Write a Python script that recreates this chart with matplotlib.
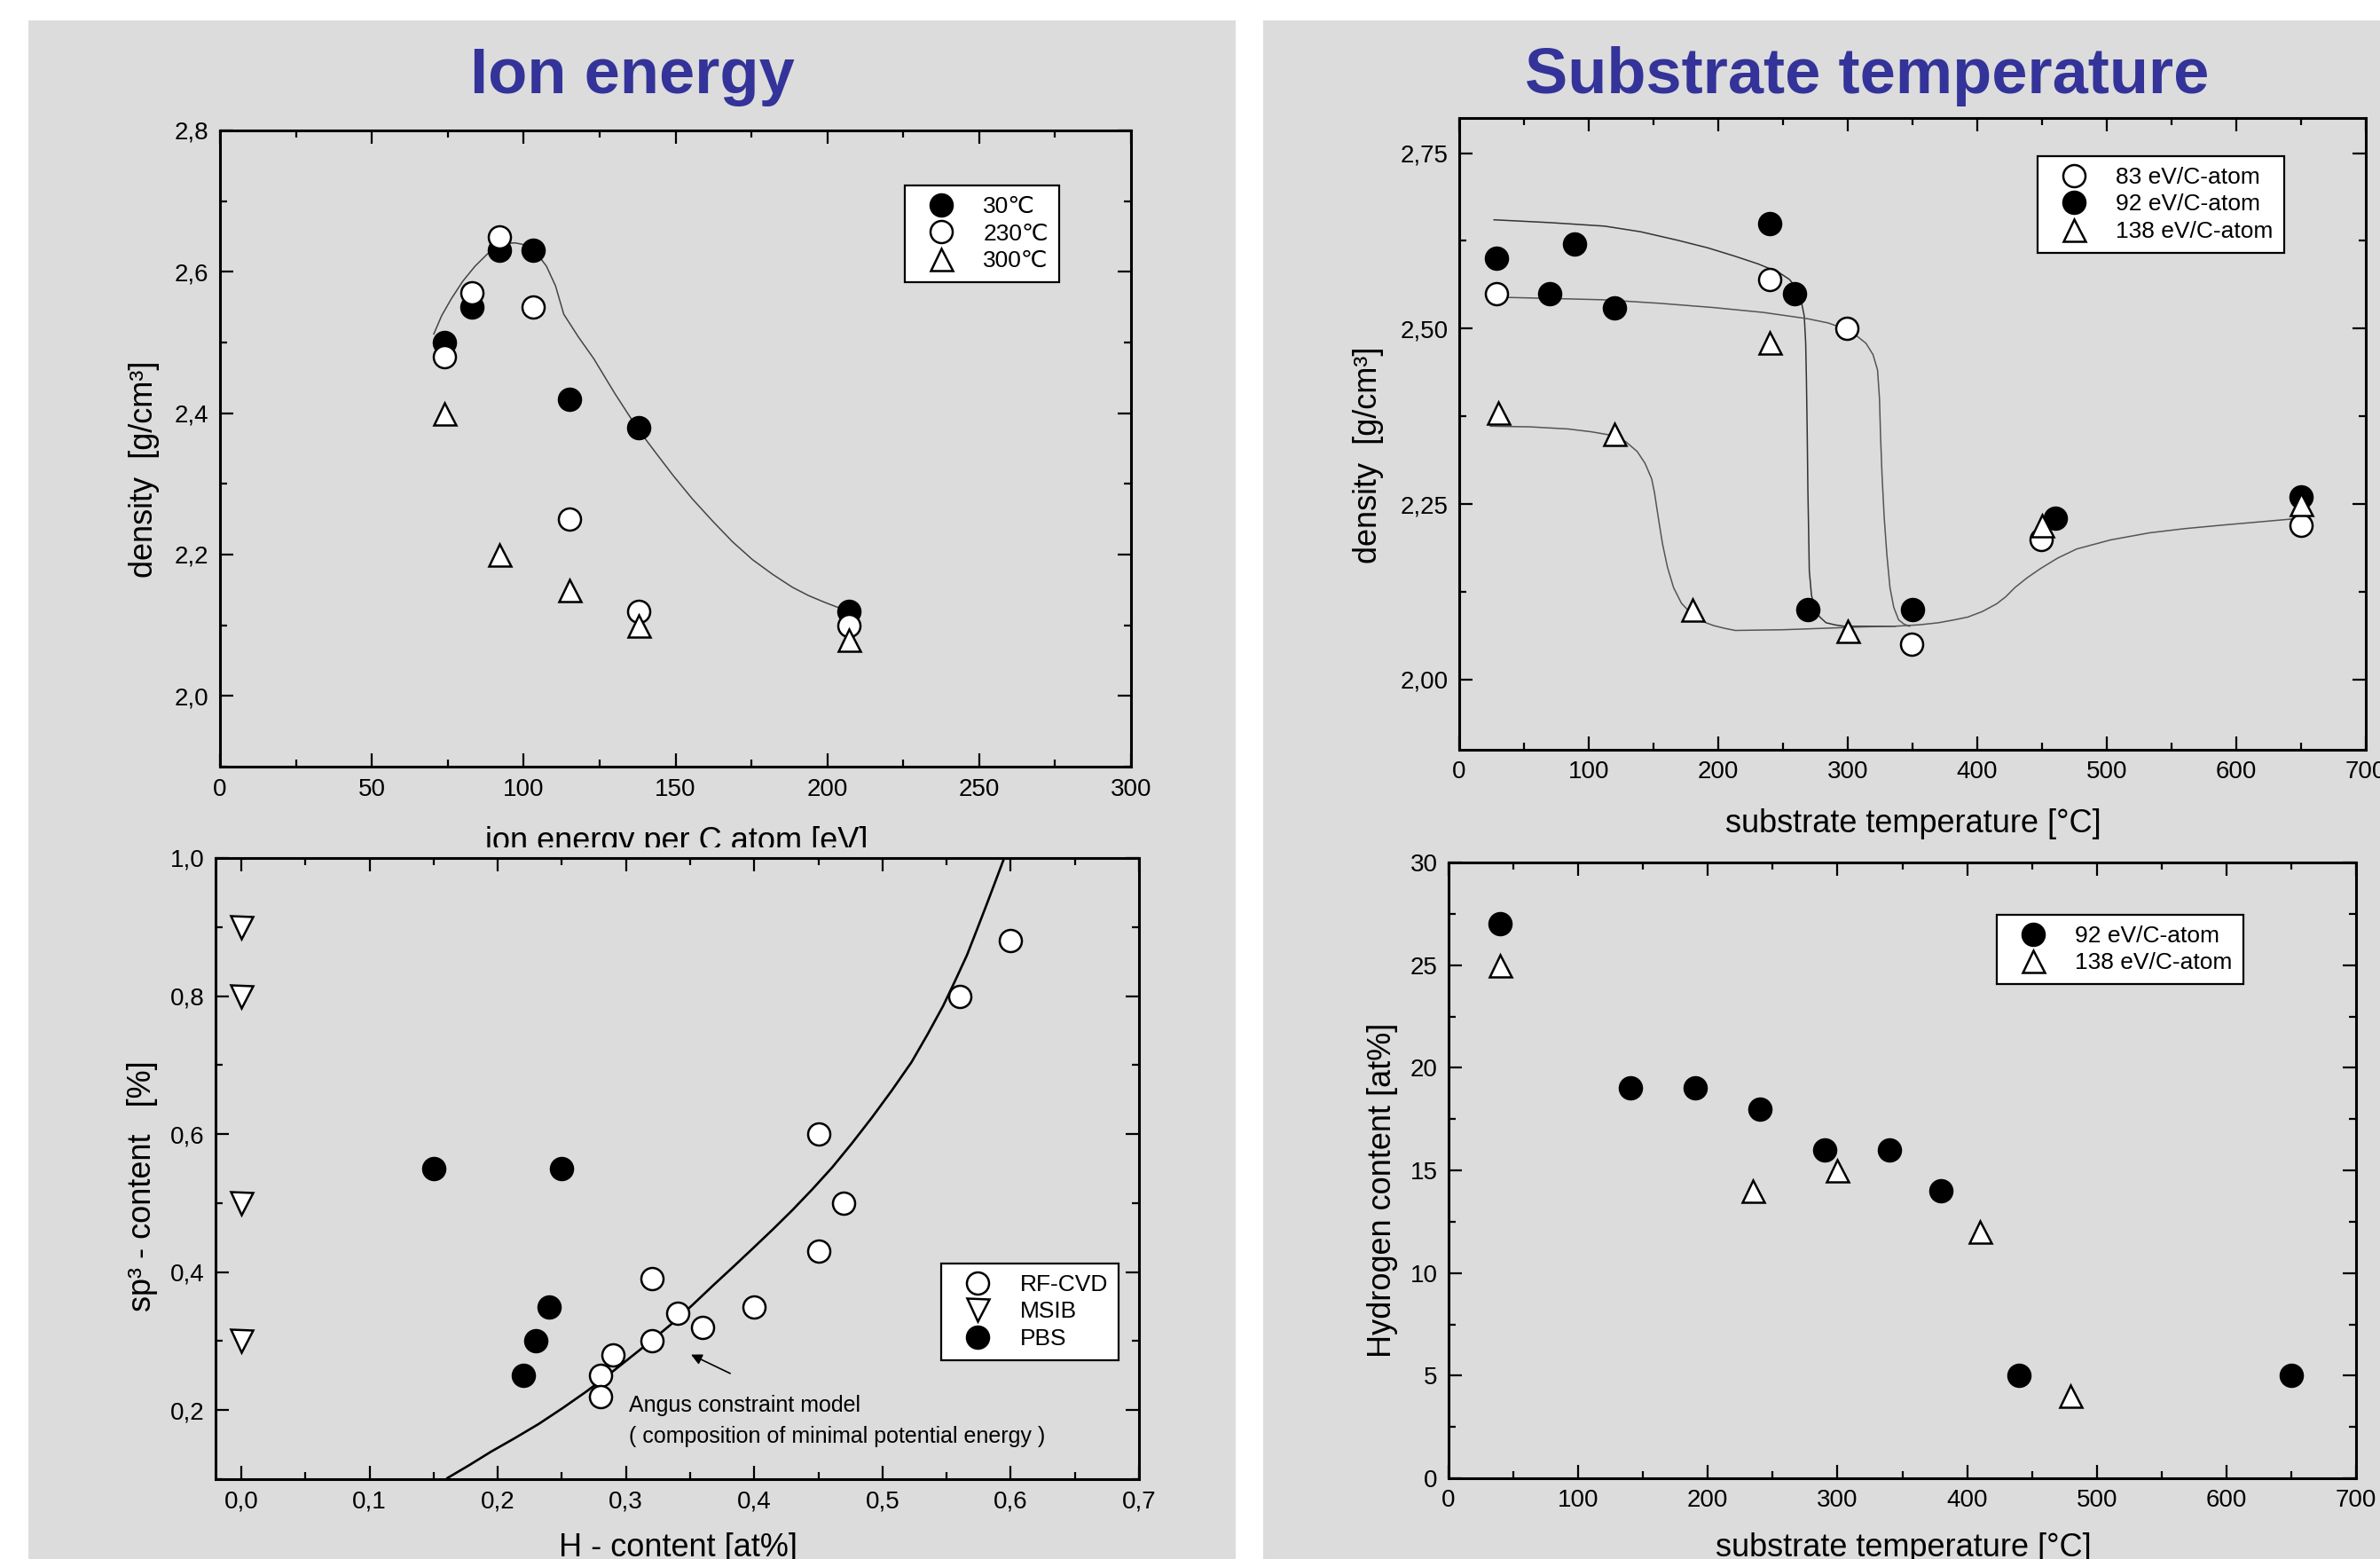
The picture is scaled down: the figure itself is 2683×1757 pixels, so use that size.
import matplotlib
matplotlib.use("Agg")
import matplotlib.pyplot as plt
from matplotlib.patches import Rectangle
from matplotlib.ticker import MultipleLocator

W, H, DPI = 2683, 1757, 100
PANEL = "#DCDCDC"
TITLE_BLUE = "#333399"

# --- data: ion energy vs density -------------------------------------------
ion_x_30 = [74, 83, 92, 103, 115, 138, 207]
ion_y_30 = [2.50, 2.55, 2.63, 2.63, 2.42, 2.38, 2.12]
ion_x_230 = [74, 83, 92, 103, 115, 138, 207]
ion_y_230 = [2.48, 2.57, 2.65, 2.55, 2.25, 2.12, 2.10]
ion_x_300 = [74, 92, 115, 138, 207]
ion_y_300 = [2.40, 2.20, 2.15, 2.10, 2.08]
ion_fit_x = [70.4, 73.0, 76.2, 80.0, 84.0, 88.0, 91.8, 94.5, 97.1, 99.5,
             101.7, 104.5, 107.5, 110.5, 113.2, 118.0, 123.1, 130.0, 137.7,
             143.5, 149.2, 155.5, 162.3, 168.8, 175.3, 182.0, 188.4, 193.8,
             198.8, 203.0, 206.1]
ion_fit_y = [2.512, 2.538, 2.562, 2.587, 2.608, 2.625, 2.637, 2.640, 2.641,
             2.639, 2.635, 2.625, 2.608, 2.580, 2.540, 2.508, 2.477, 2.428,
             2.377, 2.344, 2.312, 2.279, 2.247, 2.218, 2.193, 2.172, 2.154,
             2.142, 2.133, 2.126, 2.122]

# --- data: substrate temperature vs density ---------------------------------
st_x_83 = [29, 240, 299, 349, 449, 650]
st_y_83 = [2.55, 2.57, 2.50, 2.05, 2.20, 2.22]
st_x_92 = [29, 70, 89, 120, 240, 259, 269, 350, 460, 650]
st_y_92 = [2.60, 2.55, 2.62, 2.53, 2.65, 2.55, 2.10, 2.10, 2.23, 2.26]
st_x_138 = [30, 120, 180, 240, 300, 450, 650]
st_y_138 = [2.38, 2.35, 2.10, 2.48, 2.07, 2.22, 2.25]
fit92_x = [26.9, 70.0, 112.2, 140.0, 168.3, 192.0, 213.1, 231.0, 246.8,
           255.0, 260.8, 264.0, 266.4, 267.5, 268.1, 268.7, 269.2, 269.8,
           270.3, 272.0, 274.8, 278.5, 283.2, 290.0, 297.2, 336.5]
fit92_y = [2.655, 2.651, 2.646, 2.638, 2.626, 2.615, 2.603, 2.592, 2.580,
           2.570, 2.557, 2.540, 2.518, 2.480, 2.425, 2.350, 2.271, 2.210,
           2.155, 2.120, 2.100, 2.089, 2.081, 2.078, 2.076, 2.076]
fit83_x = [24.1, 70.0, 112.2, 155.0, 196.3, 235.0, 269.2, 285.0, 297.2,
           306.0, 314.1, 319.5, 323.0, 324.5, 325.3, 326.5, 328.1, 330.2,
           332.6, 335.5, 339.3, 343.5, 347.7]
fit83_y = [2.545, 2.543, 2.541, 2.536, 2.530, 2.523, 2.514, 2.508, 2.500,
           2.491, 2.479, 2.463, 2.441, 2.400, 2.348, 2.290, 2.232, 2.178,
           2.131, 2.103, 2.085, 2.079, 2.076]
fit138_x = [24.1, 55.0, 84.1, 102.0, 117.8, 128.5, 137.4, 143.5, 148.6,
            150.8, 152.6, 154.8, 157.0, 160.8, 165.5, 171.5, 179.5, 187.5,
            196.3, 205.0, 213.1, 250.0, 280.4, 310.0, 336.5, 355.0, 370.2,
            382.0, 392.6, 404.0, 415.0, 422.0, 429.0, 438.5, 448.7, 462.0,
            476.7, 503.0, 532.8, 560.0, 588.9, 620.0, 650.6]
fit138_y = [2.361, 2.360, 2.357, 2.353, 2.348, 2.339, 2.325, 2.308, 2.286,
            2.266, 2.244, 2.218, 2.193, 2.160, 2.131, 2.109, 2.093, 2.083,
            2.077, 2.073, 2.070, 2.071, 2.073, 2.075, 2.076, 2.078, 2.081,
            2.085, 2.089, 2.097, 2.108, 2.118, 2.131, 2.145, 2.158, 2.173,
            2.186, 2.199, 2.209, 2.215, 2.220, 2.225, 2.230]

# --- data: H content vs sp3 content -----------------------------------------
rf_x = [0.60, 0.56, 0.45, 0.47, 0.45, 0.40, 0.32, 0.34, 0.36, 0.32, 0.29, 0.28, 0.28]
rf_y = [0.88, 0.80, 0.60, 0.50, 0.43, 0.35, 0.39, 0.34, 0.32, 0.30, 0.28, 0.25, 0.22]
msib_x = [0.0, 0.0, 0.0, 0.0]
msib_y = [0.90, 0.80, 0.50, 0.30]
pbs_x = [0.15, 0.25, 0.24, 0.23, 0.22]
pbs_y = [0.55, 0.55, 0.35, 0.30, 0.25]
angus_x = [0.1608, 0.1780, 0.1948, 0.2135, 0.2319, 0.2505, 0.2690, 0.2875,
           0.3061, 0.3215, 0.3370, 0.3525, 0.3680, 0.3835, 0.3989, 0.4144,
           0.4298, 0.4453, 0.4607, 0.4762, 0.4917, 0.5072, 0.5226, 0.5350,
           0.5473, 0.5566, 0.5659, 0.5736, 0.5813, 0.5881, 0.5949]
angus_y = [0.1016, 0.1205, 0.1398, 0.1596, 0.1799, 0.2028, 0.2268, 0.2528,
           0.2803, 0.3032, 0.3272, 0.3535, 0.3808, 0.4074, 0.4343, 0.4617,
           0.4899, 0.5200, 0.5515, 0.5867, 0.6238, 0.6630, 0.7041, 0.7440,
           0.7858, 0.8220, 0.8594, 0.8960, 0.9331, 0.9665, 1.0]

# --- data: substrate temperature vs hydrogen --------------------------------
h_x_92 = [40, 140, 190, 240, 290, 340, 380, 440, 650]
h_y_92 = [27, 19, 19, 18, 16, 16, 14, 5, 5]
h_x_138 = [40, 235, 300, 410, 480]
h_y_138 = [25, 14, 15, 12, 4]

# --- tick labels ---------------------------------------------------------------
ion_xticks = [0, 50, 100, 150, 200, 250, 300]
ion_xlabels = ["0", "50", "100", "150", "200", "250", "300"]
ion_yticks = [2.0, 2.2, 2.4, 2.6, 2.8]
ion_ylabels = ["2,0", "2,2", "2,4", "2,6", "2,8"]
temp_xticks = [0, 100, 200, 300, 400, 500, 600, 700]
temp_xlabels = ["0", "100", "200", "300", "400", "500", "600", "700"]
st_yticks = [2.00, 2.25, 2.50, 2.75]
st_ylabels = ["2,00", "2,25", "2,50", "2,75"]
h_xticks = [0.0, 0.1, 0.2, 0.3, 0.4, 0.5, 0.6, 0.7]
h_xlabels = ["0,0", "0,1", "0,2", "0,3", "0,4", "0,5", "0,6", "0,7"]
sp3_yticks = [0.2, 0.4, 0.6, 0.8, 1.0]
sp3_ylabels = ["0,2", "0,4", "0,6", "0,8", "1,0"]
hc_yticks = [0, 5, 10, 15, 20, 25, 30]
hc_ylabels = ["0", "5", "10", "15", "20", "25", "30"]

plt.rcParams.update({
    "font.family": ["Liberation Sans", "DejaVu Sans"],
    "axes.linewidth": 2.2,
    "text.color": "black",
})

fig = plt.figure(figsize=(W / DPI, H / DPI), dpi=DPI, facecolor="white")


def fx(px):
    return px / W


def fy(py):
    return 1 - py / H


def axes_px(left, top, right, bottom, z=0):
    ax = fig.add_axes([fx(left), fy(bottom), (right - left) / W, (bottom - top) / H])
    ax.set_facecolor("none")
    ax.set_zorder(z)
    return ax


def style(ax, xmin, ymin, xt, xl, yt, yl):
    ax.set_xticks(xt)
    ax.set_xticklabels(xl)
    ax.set_yticks(yt)
    ax.set_yticklabels(yl)
    ax.xaxis.set_minor_locator(MultipleLocator(xmin))
    ax.yaxis.set_minor_locator(MultipleLocator(ymin))
    ax.tick_params(which="both", direction="in", top=True, right=True,
                   width=1.6, labelsize=20, pad=9)
    ax.tick_params(which="major", length=11)
    ax.tick_params(which="minor", length=6)


def legend(ax, left, top):
    lg = ax.legend(loc="upper left", bbox_to_anchor=(fx(left), fy(top)),
                   bbox_transform=fig.transFigure, borderaxespad=0,
                   fontsize=19, frameon=True, fancybox=False, framealpha=1,
                   facecolor="white", edgecolor="black", borderpad=0.45,
                   handlelength=2.2, handletextpad=0.7, labelspacing=0.25,
                   numpoints=1)
    lg.get_frame().set_linewidth(1.6)


def label(x, y, s, rot=0, size=26, z=1, va="center"):
    fig.text(fx(x), fy(y), s, rotation=rot, ha="center", va=va,
             fontsize=size, zorder=z)


# grey panels
fig.patches.append(Rectangle((fx(32), 0), fx(1393) - fx(32), fy(23),
                             transform=fig.transFigure, facecolor=PANEL,
                             edgecolor="none", zorder=-2))
fig.patches.append(Rectangle((fx(1424), 0), 1 - fx(1424), fy(23),
                             transform=fig.transFigure, facecolor=PANEL,
                             edgecolor="none", zorder=-2))
# strip hiding the lower part of the first x label (the lower chart overlaps it)
fig.patches.append(Rectangle((fx(32), fy(995)), fx(1393) - fx(32), fy(955) - fy(995),
                             transform=fig.transFigure, facecolor=PANEL,
                             edgecolor="none", zorder=2))

fig.text(fx(713), fy(105), "Ion energy", ha="center", va="baseline",
         fontsize=52, fontweight="bold", color=TITLE_BLUE)
fig.text(fx(2105), fy(105), "Substrate temperature", ha="center", va="baseline",
         fontsize=52, fontweight="bold", color=TITLE_BLUE)

mk = dict(ls="none", ms=18, mew=1.8, mec="black", zorder=4)

# --- 1. ion energy ---------------------------------------------------------------
ax1 = axes_px(248, 147, 1275, 864)
ax1.plot(ion_fit_x, ion_fit_y, color="#444444", lw=1.1, zorder=2)
ax1.plot(ion_x_30, ion_y_30, marker="o", mfc="black", label="30\u2103", **mk)
ax1.plot(ion_x_230, ion_y_230, marker="o", mfc="white", label="230\u2103", **mk)
ax1.plot(ion_x_300, ion_y_300, marker="^", mfc="white", label="300\u2103", **mk)
ax1.set_xlim(0, 300)
ax1.set_ylim(1.9, 2.8)
style(ax1, 25, 0.1, ion_xticks, ion_xlabels, ion_yticks, ion_ylabels)
legend(ax1, 1020, 209)
label(163, 529, "density  [g/cm\u00b3]", rot=90)
label(763, 958, "ion energy per C atom [eV]", va="baseline")

# --- 2. substrate temperature vs density ---------------------------------------
ax2 = axes_px(1645, 133, 2667, 845)
ax2.plot(fit92_x, fit92_y, color="#333333", lw=1.1, zorder=2)
ax2.plot(fit83_x, fit83_y, color="#555555", lw=1.1, zorder=2)
ax2.plot(fit138_x, fit138_y, color="#555555", lw=1.1, zorder=2)
ax2.plot(st_x_83, st_y_83, marker="o", mfc="white", label="83 eV/C-atom", **mk)
ax2.plot(st_x_92, st_y_92, marker="o", mfc="black", label="92 eV/C-atom", **mk)
ax2.plot(st_x_138, st_y_138, marker="^", mfc="white", label="138 eV/C-atom", **mk)
ax2.set_xlim(0, 700)
ax2.set_ylim(1.9, 2.8)
style(ax2, 50, 0.125, temp_xticks, temp_xlabels, st_yticks, st_ylabels)
legend(ax2, 2297, 176)
label(1543, 513, "density  [g/cm\u00b3]", rot=90)
label(2157, 938, "substrate temperature [\u00b0C]", va="baseline")

# --- 3. H content vs sp3 ---------------------------------------------------------
ax3 = axes_px(243, 967, 1284, 1667, z=3)
ax3.plot(angus_x, angus_y, color="black", lw=1.9, zorder=2)
ax3.plot(rf_x, rf_y, marker="o", mfc="white", label="RF-CVD", **mk)
ax3.plot(msib_x, msib_y, marker="v", mfc="white", label="MSIB", **mk)
ax3.plot(pbs_x, pbs_y, marker="o", mfc="black", label="PBS", **mk)
ax3.set_xlim(-0.02, 0.7)
ax3.set_ylim(0.1, 1.0)
style(ax3, 0.05, 0.1, h_xticks, h_xlabels, sp3_yticks, sp3_ylabels)
legend(ax3, 1061, 1424)
ax3.annotate("", xy=(0.349, 0.282), xytext=(0.383, 0.2516),
             arrowprops=dict(arrowstyle="-|>", color="black", lw=1.2,
                             mutation_scale=18))
ax3.text(0.302, 0.207, "Angus constraint model", fontsize=18, va="center", ha="left")
ax3.text(0.302, 0.162, "( composition of minimal potential energy )", fontsize=18,
         va="center", ha="left")
label(161, 1337, "sp\u00b3 - content   [%]", rot=90)
label(765, 1754, "H - content [at%]", va="baseline")

# --- 4. substrate temperature vs hydrogen ---------------------------------------
ax4 = axes_px(1633, 972, 2656, 1666)
ax4.plot(h_x_92, h_y_92, marker="o", mfc="black", label="92 eV/C-atom", **mk)
ax4.plot(h_x_138, h_y_138, marker="^", mfc="white", label="138 eV/C-atom", **mk)
ax4.set_xlim(0, 700)
ax4.set_ylim(0, 30)
style(ax4, 50, 2.5, temp_xticks, temp_xlabels, hc_yticks, hc_ylabels)
legend(ax4, 2251, 1031)
label(1559, 1341, "Hydrogen content [at%]", rot=90)
label(2146, 1754, "substrate temperature [\u00b0C]", va="baseline")

fig.savefig("out.png", dpi=DPI)
